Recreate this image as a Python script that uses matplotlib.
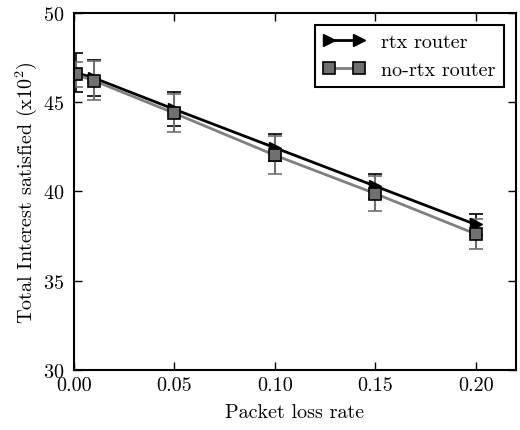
import matplotlib
matplotlib.use('Agg')
import matplotlib.pyplot as plt
from matplotlib.lines import Line2D

plt.rcParams['font.family'] = 'serif'
plt.rcParams['font.serif'] = ['cmr10']
plt.rcParams['mathtext.fontset'] = 'cm'
plt.rcParams['axes.formatter.use_mathtext'] = True
plt.rcParams['font.size'] = 14.5

loss_rate = [0.001, 0.01, 0.05, 0.10, 0.15, 0.20]
rtx = [46.65, 46.35, 44.6, 42.45, 40.3, 38.15]
rtx_err = [1.1, 1.0, 0.96, 0.77, 0.7, 0.6]
nortx = [46.55, 46.2, 44.38, 42.03, 39.88, 37.62]
nortx_err = [0.7, 1.1, 1.07, 1.08, 0.97, 0.82]

fig = plt.figure(figsize=(5.2, 4.31), dpi=100)
ax = fig.add_axes([0.142, 0.139, 0.85, 0.829])

ax.errorbar(loss_rate, rtx, yerr=rtx_err, color='black', lw=2,
            marker='>', markersize=9, mfc='black', mec='black',
            ecolor='black', elinewidth=1.2, capsize=5, capthick=1.2)
ax.errorbar(loss_rate, nortx, yerr=nortx_err, color='#808080', lw=2,
            marker='s', markersize=9, mfc='#707070', mec='black', mew=1.2,
            ecolor='#707070', elinewidth=1.5, capsize=5, capthick=1.5)

ax.set_xlim(0, 0.22)
ax.set_ylim(30, 50)
ax.set_xticks([0.00, 0.05, 0.10, 0.15, 0.20])
ax.set_xticklabels(['0.00', '0.05', '0.10', '0.15', '0.20'])
ax.set_yticks([30, 35, 40, 45, 50])
ax.tick_params(direction='in', top=True, right=True, length=6, width=1)
ax.tick_params(axis='x', pad=4)
ax.tick_params(axis='y', pad=7)
for s in ax.spines.values():
    s.set_linewidth(1.5)

ax.set_xlabel('Packet loss rate', labelpad=7)
ax.set_ylabel('Total Interest satisfied (x10$^2$)', labelpad=3)

handles = [
    Line2D([], [], color='black', lw=2, marker='>', markersize=9,
           mfc='black', mec='black'),
    Line2D([], [], color='#808080', lw=2, marker='s', markersize=9,
           mfc='#707070', mec='black', mew=1.2),
]
leg = ax.legend(handles, ['rtx router', 'no-rtx router'], loc='upper right',
                numpoints=2, fancybox=False, edgecolor='black', framealpha=1,
                handlelength=2.1, borderaxespad=0.6)
leg.get_frame().set_linewidth(1.5)

fig.savefig('out.png', dpi=100)
